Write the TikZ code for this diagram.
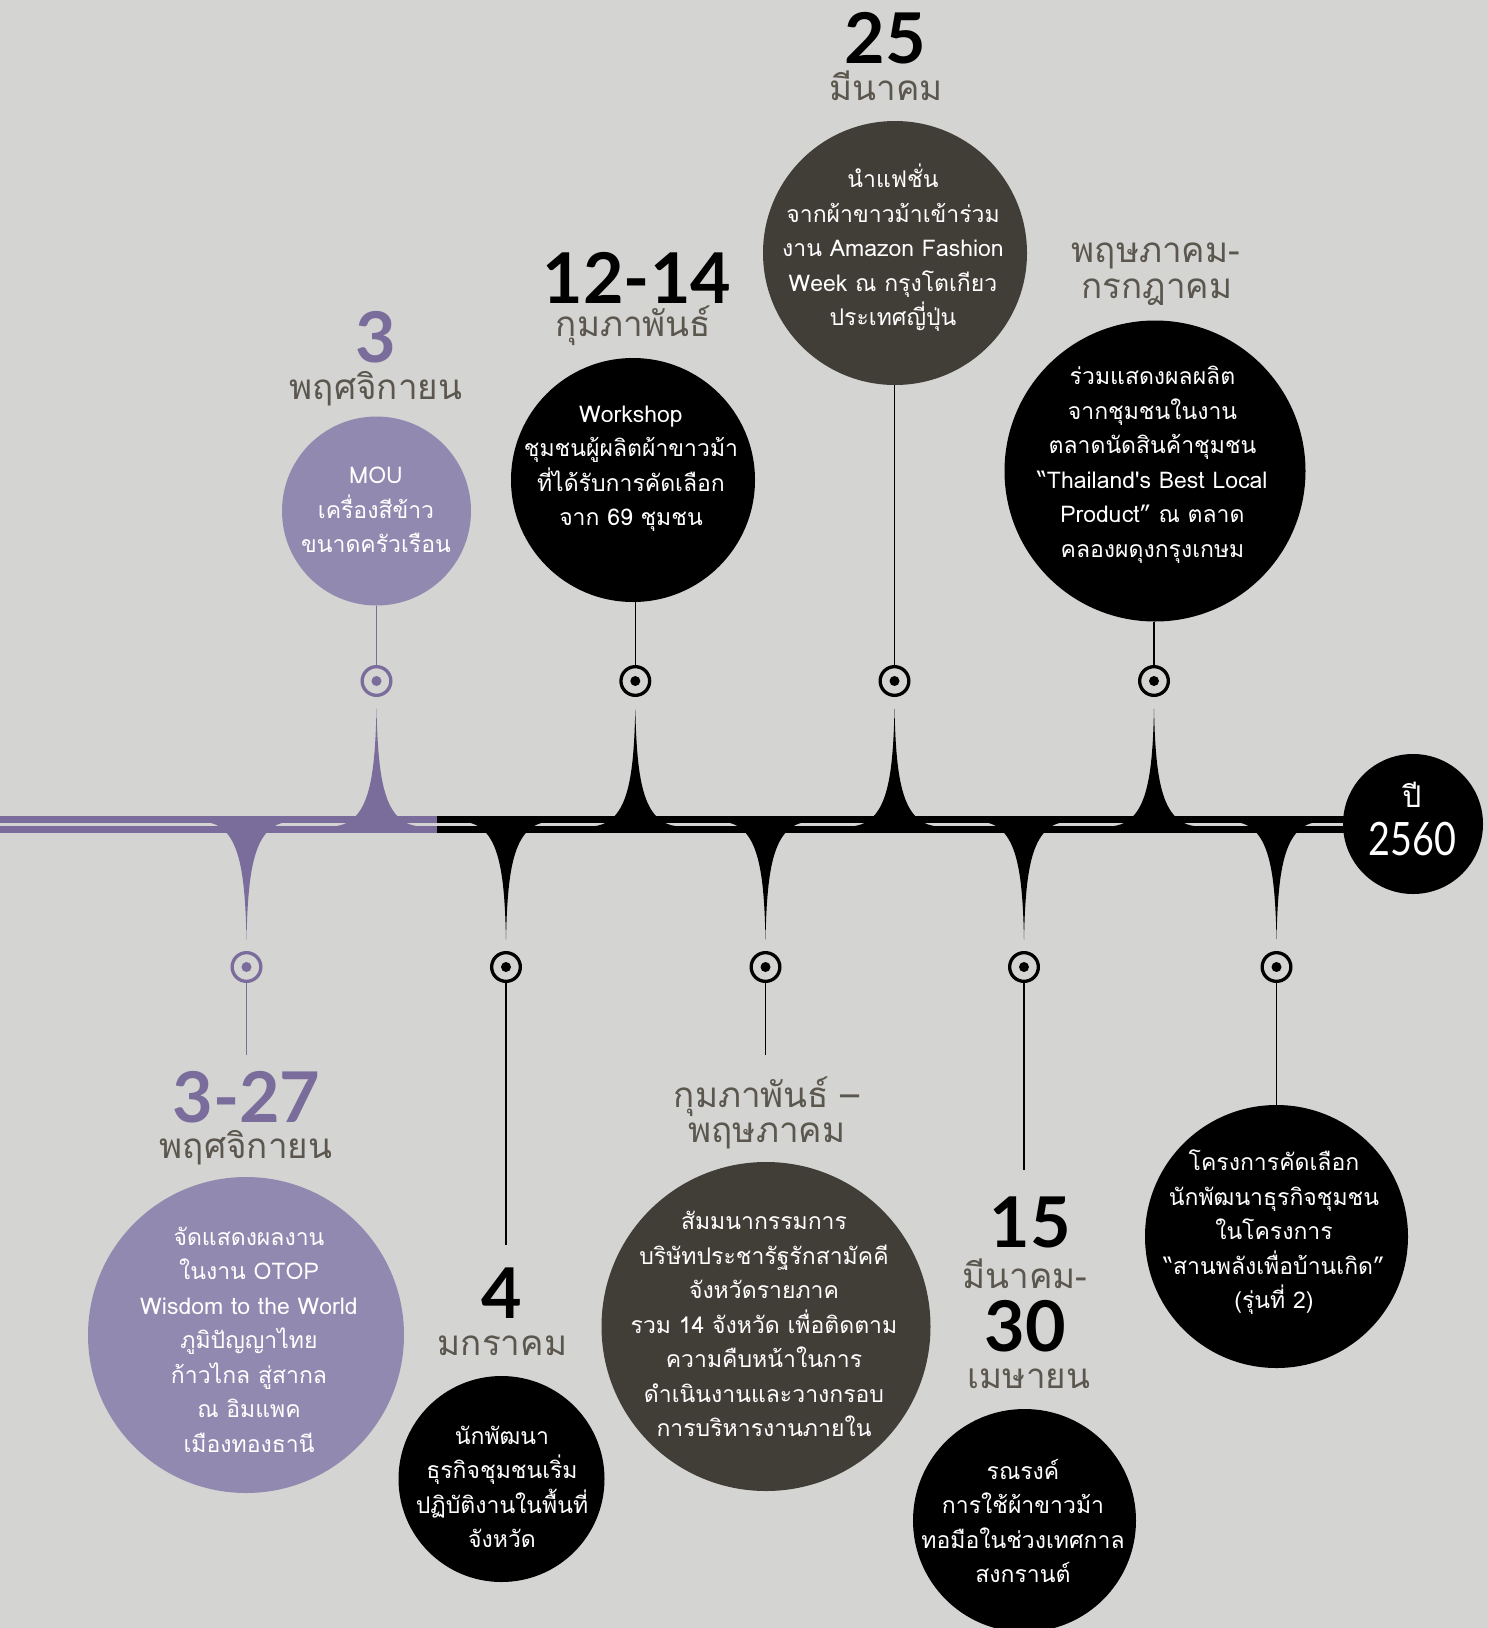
\documentclass[tikz,border=0pt]{standalone}
\usepackage{fontspec}
\newfontfamily\thaifont[Script=Thai]{Loma}
\newfontfamily\numfont{Lato}
\newfontfamily\yearfont[FakeStretch=0.82]{Lato}

\definecolor{bgcol}{HTML}{D4D4D2}
\definecolor{purpdark}{HTML}{7A6C9B}
\definecolor{purplight}{HTML}{9289B0}
\definecolor{browndark}{HTML}{413D37}
\definecolor{monthcol}{HTML}{5B574F}

\tikzset{
  spike/.pic={\fill[pic actions] (-46,0) .. controls (-8,-0.5) and (-1.6,-44) .. (0,-118)
                .. controls (1.6,-44) and (8,-0.5) .. (46,0) -- cycle;},
  ringmark/.style={circle, draw=#1, line width=3.3pt, minimum size=28.7pt, inner sep=0pt},
  evcircle/.style 2 args={circle, fill=#1, minimum size=#2, inner sep=0pt},
  evtext/.style={text=white, align=center, inner sep=0pt,
                 font=\thaifont\fontsize{23}{34.5}\selectfont},
  daynum/.style={anchor=base, inner sep=0pt, font=\numfont\bfseries\fontsize{70}{70}\selectfont},
  monthname/.style={anchor=base, inner sep=0pt, text=monthcol,
                    font=\thaifont\fontsize{35}{35}\selectfont},
  connector/.style={line width=1.3pt}
}

\begin{document}
\begin{tikzpicture}[x=1pt,y=-1pt]
  %%%%% START %%%%%
  \useasboundingbox[fill=bgcol] (0,0) rectangle (1488,1628);

  % timeline band
  \fill[purpdark] (-2,815.5) rectangle (437,832.5);
  \fill[black] (437,815.5) rectangle (1413,832.5);
  \fill[bgcol] (-2,822.5) rectangle (1413,825.5);

  % spikes up
  \pic[fill=purpdark] at (376.5,826.5) {spike};
  \pic[fill=black] at (635.3,826.5) {spike};
  \pic[fill=black] at (894.5,826.5) {spike};
  \pic[fill=black] at (1154,826.5) {spike};
  % spikes down
  \pic[fill=purpdark, yscale=-1] at (246.5,821.5) {spike};
  \pic[fill=black, yscale=-1] at (506,821.5) {spike};
  \pic[fill=black, yscale=-1] at (765.5,821.5) {spike};
  \pic[fill=black, yscale=-1] at (1024,821.5) {spike};
  \pic[fill=black, yscale=-1] at (1276.5,821.5) {spike};

  % year
  \node[evcircle={black}{140pt}] (yr) at (1413,824) {};
  \node[text=white, inner sep=0pt, font=\thaifont\fontsize{30}{30}\selectfont] (yrA) at (1412,795) {ปี};
  \node[text=white, anchor=base, inner sep=0pt, font=\yearfont\fontsize{46}{46}\selectfont] (yrB) at (1412.5,855) {2560};

  % markers
  \node[ringmark=purpdark] (m1) at (376.5,681) {};
  \node[ringmark=black] (m2) at (635.3,681) {};
  \node[ringmark=black] (m3) at (894.5,681) {};
  \node[ringmark=black] (m4) at (1154,681) {};
  \node[ringmark=purpdark] (m5) at (246.5,967) {};
  \node[ringmark=black] (m6) at (506,967) {};
  \node[ringmark=black] (m7) at (765.5,967) {};
  \node[ringmark=black] (m8) at (1024,967) {};
  \node[ringmark=black] (m9) at (1276.5,967) {};
  \fill[purpdark] (m1.center) circle (5pt) (m5.center) circle (5pt);
  \fill[black] (m2.center) circle (5pt) (m3.center) circle (5pt) (m4.center) circle (5pt)
               (m6.center) circle (5pt) (m7.center) circle (5pt) (m8.center) circle (5pt)
               (m9.center) circle (5pt);

  % upper events
  \node[evcircle={purplight}{189pt}] (c1) at (376.5,511) {};
  \node[evcircle={black}{244pt}] (c2) at (633,480) {};
  \node[evcircle={browndark}{264pt}] (c3) at (895,253) {};
  \node[evcircle={black}{301pt}] (c4) at (1155,471) {};

  \draw[connector, purpdark] (c1.south) -- (m1.north);
  \draw[connector] (c2.south -| m2) -- (m2.north);
  \draw[connector] (c3.south -| m3) -- (m3.north);
  \draw[connector] (c4.south -| m4) -- (m4.north);

  \node[daynum, text=purpdark] (d1) at (376,362) {3};
  \node[monthname] (n1) at (376,399) {พฤศจิกายน};
  \node[daynum] (d2) at (637,303) {12-14};
  \node[monthname] (n2) at (633.5,336) {กุมภาพันธ์};
  \node[daynum] (d3) at (885,63.5) {25};
  \node[monthname] (n3) at (886,100) {มีนาคม};
  \node[monthname] (n4a) at (1156,262) {พฤษภาคม-};
  \node[monthname] (n4b) at (1157,298) {กรกฎาคม};

  \node[evtext] (t1) at (376,510) {MOU\\เครื่องสีข้าว\\ขนาดครัวเรือน};
  \node[evtext] (t2) at (631,469) {Workshop\\ชุมชนผู้ผลิตผ้าขาวม้า\\ที่ได้รับการคัดเลือก\\จาก 69 ชุมชน};
  \node[evtext] (t3) at (893,248) {นำแฟชั่น\\จากผ้าขาวม้าเข้าร่วม\\งาน Amazon Fashion\\Week ณ กรุงโตเกียว\\ประเทศญี่ปุ่น};
  \node[evtext] (t4) at (1152.5,465) {ร่วมแสดงผลผลิต\\จากชุมชนในงาน\\ตลาดนัดสินค้าชุมชน\\“Thailand's Best Local\\Product” ณ ตลาด\\คลองผดุงกรุงเกษม};

  % lower events
  \coordinate (e5) at (246.5,1055);
  \coordinate (e6) at (506,1245);
  \coordinate (e7) at (765.5,1055);
  \coordinate (e8) at (1024,1170);
  \draw[connector, purpdark] (m5.south) -- (e5);
  \draw[connector] (m6.south) -- (e6);
  \draw[connector] (m7.south) -- (e7);
  \draw[connector] (m8.south) -- (e8);

  \node[evcircle={purplight}{316pt}] (c5) at (246,1335) {};
  \node[evcircle={black}{206pt}] (c6) at (501.5,1479) {};
  \node[evcircle={browndark}{329pt}] (c7) at (766,1326.5) {};
  \node[evcircle={black}{223pt}] (c8) at (1024.5,1520.5) {};
  \node[evcircle={black}{263pt}] (c9) at (1276.5,1236.5) {};
  \draw[connector] (m9.south) -- (c9.north -| m9);

  \node[daynum, text=purpdark] (d5) at (246.6,1122) {3-27};
  \node[monthname] (n5) at (246,1158) {พฤศจิกายน};
  \node[daynum] (d6) at (502,1318) {4};
  \node[monthname] (n6) at (502.5,1355) {มกราคม};
  \node[monthname] (n7a) at (767,1107) {กุมภาพันธ์ –};
  \node[monthname] (n7b) at (767,1142) {พฤษภาคม};
  \node[daynum] (d8a) at (1030,1247) {15};
  \node[monthname] (n8a) at (1025,1288) {มีนาคม-};
  \node[daynum] (d8b) at (1025,1351) {30};
  \node[monthname] (n8b) at (1029,1388) {เมษายน};

  \node[evtext] (t5) at (249,1339.5) {จัดแสดงผลงาน\\ในงาน OTOP\\Wisdom to the World\\ภูมิปัญญาไทย\\ก้าวไกล สู่สากล\\ณ อิมแพค\\เมืองทองธานี};
  \node[evtext] (t6) at (502,1487) {นักพัฒนา\\ธุรกิจชุมชนเริ่ม\\ปฏิบัติงานในพื้นที่\\จังหวัด};
  \node[evtext] (t7) at (764,1324) {สัมมนากรรมการ\\บริษัทประชารัฐรักสามัคคี\\จังหวัดรายภาค\\รวม 14 จังหวัด เพื่อติดตาม\\ความคืบหน้าในการ\\ดำเนินงานและวางกรอบ\\การบริหารงานภายใน};
  \node[evtext] (t8) at (1023,1521) {รณรงค์\\การใช้ผ้าขาวม้า\\ทอมือในช่วงเทศกาล\\สงกรานต์};
  \node[evtext] (t9) at (1274,1232.5) {โครงการคัดเลือก\\นักพัฒนาธุรกิจชุมชน\\ในโครงการ\\“สานพลังเพื่อบ้านเกิด”\\(รุ่นที่ 2)};
  %%%%% END %%%%%
\end{tikzpicture}
\end{document}
